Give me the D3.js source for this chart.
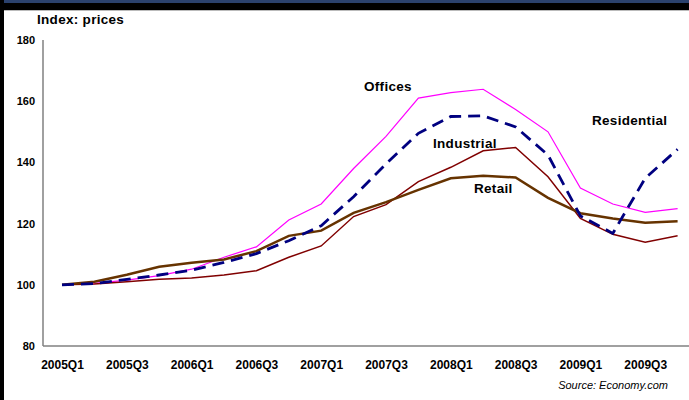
<!DOCTYPE html>
<html>
<head>
<meta charset="utf-8">
<script src="https://cdn.jsdelivr.net/npm/d3@7"></script>
<style>
  html, body { margin: 0; padding: 0; background: #fff; }
  svg { display: block; font-family: "Liberation Sans", Arial, sans-serif; }
</style>
</head>
<body>
<svg id="chart" width="689" height="400"></svg>
<script>
// Quarterly price indices, 2005Q1 = 100
const quarters = ["2005Q1","2005Q2","2005Q3","2005Q4","2006Q1","2006Q2","2006Q3","2006Q4",
  "2007Q1","2007Q2","2007Q3","2007Q4","2008Q1","2008Q2","2008Q3","2008Q4",
  "2009Q1","2009Q2","2009Q3","2009Q4"];
const tickLabels = ["2005Q1","2005Q3","2006Q1","2006Q3","2007Q1","2007Q3","2008Q1","2008Q3","2009Q1","2009Q3"];
const yTicks = [80, 100, 120, 140, 160, 180];

const offices     = [100, 100.5, 101.5, 103, 105.1, 109, 112.4, 121.2, 126.4, 138, 148.5, 161, 162.8, 163.9, 157.3, 150, 131.6, 126.4, 123.7, 124.9];
const residential = [100, 100.4, 101.8, 103.2, 104.8, 107.3, 110.2, 114.4, 119.3, 128.8, 139.5, 149.5, 155, 155.2, 151.6, 142.4, 122.5, 116.8, 134.8, 144.3];
const industrial  = [100, 100.3, 101, 101.8, 102.2, 103.2, 104.6, 109, 112.7, 122.3, 126.2, 133.7, 138.4, 143.8, 144.9, 135.3, 121.7, 116.5, 113.9, 116];
const retail      = [100, 101, 103.3, 105.9, 107.2, 108.3, 111, 116, 117.7, 123.5, 127, 131, 134.8, 135.6, 135.1, 128.4, 123.4, 121.7, 120.3, 120.8];

const svg = d3.select("#chart");
const W = 689, H = 400;

// Window frame: navy strip, black band and left edge
svg.append("rect").attr("x", 0).attr("y", 0).attr("width", W).attr("height", 4).attr("fill", "#2b426e");
svg.append("rect").attr("x", 0).attr("y", 3).attr("width", W).attr("height", 7).attr("fill", "#000");
svg.append("line").attr("x1", 0).attr("x2", W).attr("y1", 10.5).attr("y2", 10.5).attr("stroke", "#bbb");
svg.append("rect").attr("x", 0).attr("y", 0).attr("width", 4).attr("height", H).attr("fill", "#000");

const plot = { left: 43, right: 689, top: 40, bottom: 346 };

const x = d3.scalePoint().domain(quarters).range([62, 677.6]);
const y = d3.scaleLinear().domain([80, 180]).range([plot.bottom, plot.top]);

// Axes
const xAxis = d3.axisBottom(x).tickValues(tickLabels).tickSize(0).tickPadding(14);
const gx = svg.append("g").attr("transform", `translate(0,${plot.bottom})`).call(xAxis);
gx.select(".domain").remove();
gx.selectAll("text").attr("fill", "#000").attr("font-size", 12).attr("font-weight", "bold")
  .attr("font-family", "Liberation Sans, Arial, sans-serif");

const yAxis = d3.axisLeft(y).tickValues(yTicks).tickSize(0).tickPadding(8);
const gy = svg.append("g").attr("transform", `translate(${plot.left},0)`).call(yAxis);
gy.select(".domain").remove();
gy.selectAll("text").attr("fill", "#000").attr("font-size", 11).attr("font-weight", "bold")
  .attr("font-family", "Liberation Sans, Arial, sans-serif");

svg.append("line").attr("x1", plot.left).attr("x2", plot.left).attr("y1", plot.top).attr("y2", plot.bottom)
  .attr("stroke", "#808080").attr("stroke-width", 1.5);
svg.append("line").attr("x1", plot.left).attr("x2", plot.right).attr("y1", plot.bottom).attr("y2", plot.bottom)
  .attr("stroke", "#808080").attr("stroke-width", 1.5);

// Series
const line = d3.line().x((d, i) => x(quarters[i])).y(d => y(d));
const series = [
  { data: offices, color: "#ff00ff", width: 1.2, dash: null },
  { data: industrial, color: "#800000", width: 1.5, dash: null },
  { data: retail, color: "#663300", width: 2.5, dash: null },
  { data: residential, color: "#000080", width: 2.8, dash: "12,7" }
];
series.forEach(s => {
  svg.append("path").datum(s.data).attr("d", line)
    .attr("fill", "none").attr("stroke", s.color).attr("stroke-width", s.width)
    .attr("stroke-dasharray", s.dash).attr("stroke-linejoin", "miter");
});

// Text
const bold = (t, xx, yy, size) => svg.append("text").attr("x", xx).attr("y", yy)
  .attr("font-size", size).attr("font-weight", "bold").attr("fill", "#000")
  .attr("letter-spacing", 0.3).text(t);
bold("Index: prices", 37, 24, 13.5);
bold("Offices", 364, 91, 13.5);
bold("Industrial", 433, 148, 13.5);
bold("Retail", 474, 193, 13.5);
bold("Residential", 592, 125, 13.5);

svg.append("text").attr("x", 668).attr("y", 389).attr("text-anchor", "end")
  .attr("font-size", 11).attr("font-style", "italic").attr("fill", "#000").text("Source: Economy.com");
</script>
</body>
</html>
